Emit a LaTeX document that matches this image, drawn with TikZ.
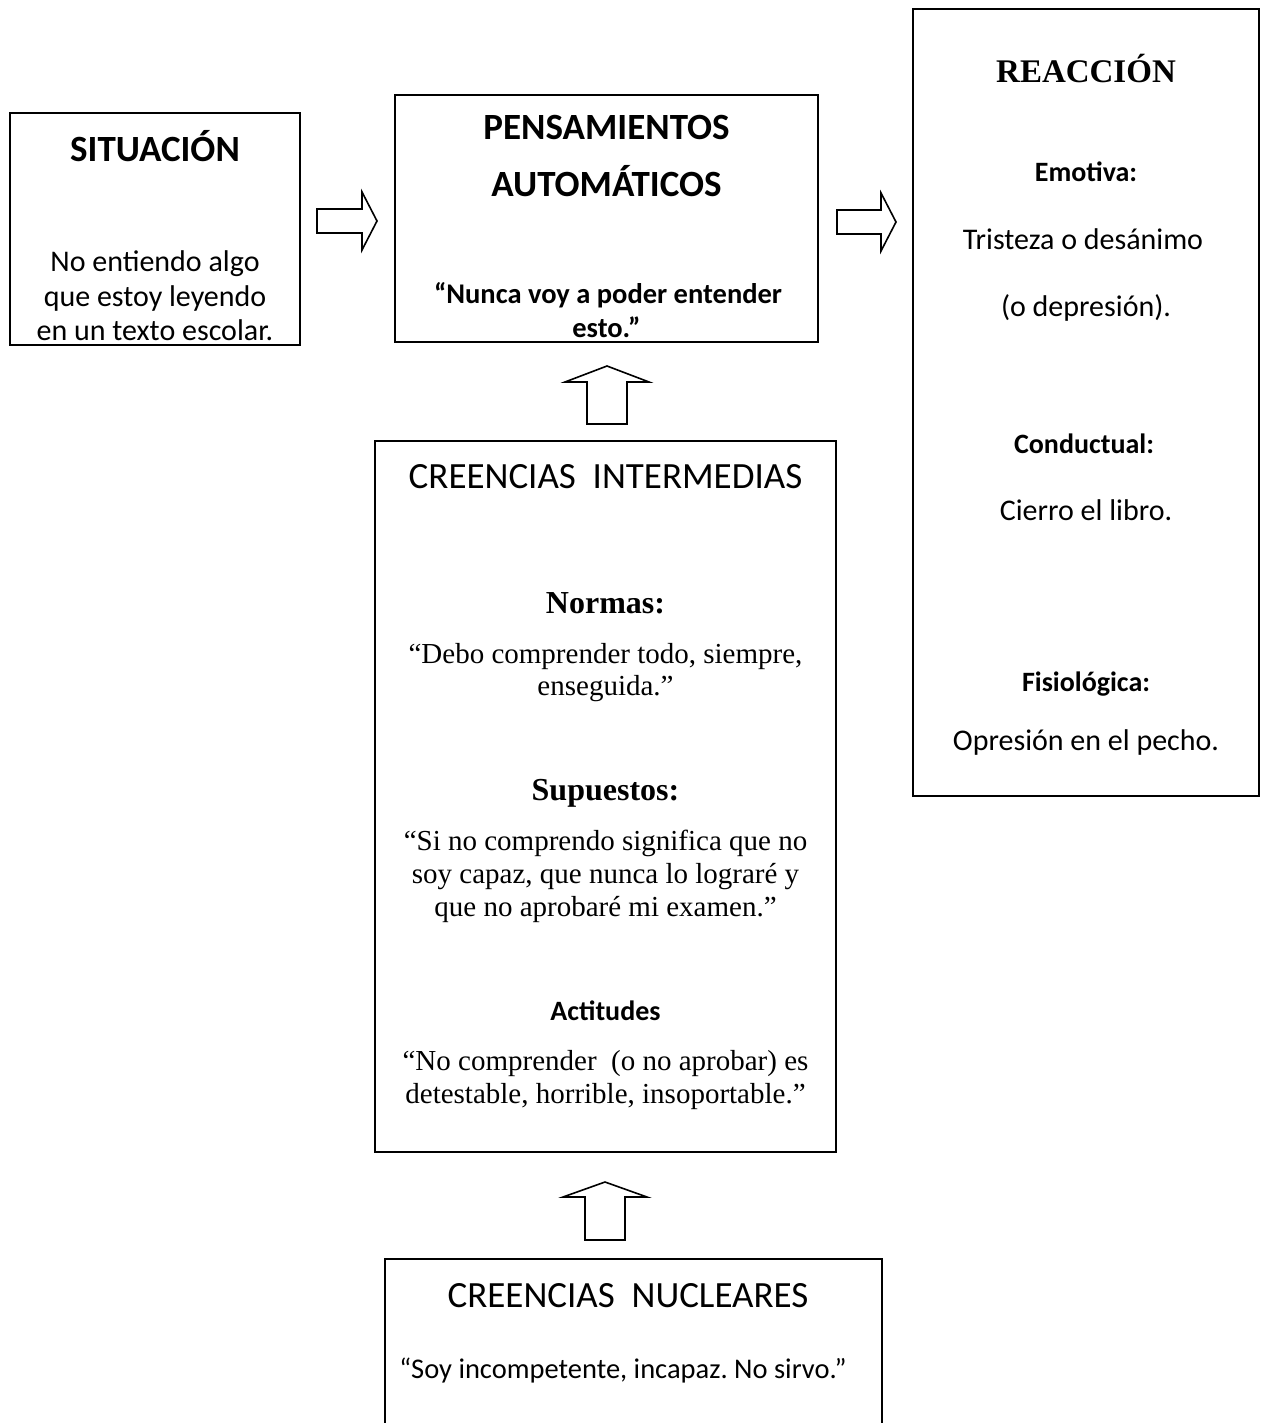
\documentclass[tikz,border=0pt]{standalone}
\usepackage{fontspec}
\setmainfont{Liberation Serif}
\newfontfamily\calfont{Carlito}
\frenchspacing
\begin{document}
\begin{tikzpicture}[x=1pt,y=-1pt,
  boxst/.style={draw, line width=1.7pt, inner sep=0pt, outer sep=0pt, rectangle},
  blockarr/.style={draw, line width=1.6pt, fill=white, line join=miter},
  txt/.style={anchor=base, inner sep=0pt},
  calhead/.style={txt, font={\calfont\bfseries\fontsize{37}{41}\selectfont}},
  calbody/.style={txt, font={\calfont\fontsize{30}{34}\selectfont}},
  calbold/.style={txt, font={\calfont\bfseries\fontsize{28.5}{33}\selectfont}},
  calsub/.style={txt, font={\calfont\bfseries\fontsize{28}{31}\selectfont}},
  calbig/.style={txt, font={\calfont\fontsize{37}{41}\selectfont}},
  calquote/.style={txt, font={\calfont\fontsize{28.5}{32}\selectfont}},
  serhead/.style={txt, font={\bfseries\fontsize{32}{36}\selectfont}},
  serbody/.style={txt, font={\fontsize{29}{33}\selectfont}},
  serbig/.style={txt, font={\bfseries\fontsize{33}{37}\selectfont}}]
\useasboundingbox (0,0) rectangle (1267,1423);
\clip (0,0) rectangle (1267,1423);
\fill[white] (0,0) rectangle (1267,1423);

% boxes
\node[boxst, minimum width=290pt, minimum height=232pt] (sit) at (155,229) {};
\node[boxst, minimum width=423pt, minimum height=247pt] (pens) at (606.5,218.5) {};
\node[boxst, minimum width=346pt, minimum height=787pt] (reac) at (1086,402.5) {};
\node[boxst, minimum width=461pt, minimum height=711pt] (inter) at (605.5,796.5) {};
\node[boxst, minimum width=497pt, minimum height=200pt] (nuc) at (633.5,1359) {};

% block arrows
\coordinate (ar1) at (317,221);
\coordinate (ar2) at (837,222);
\coordinate (au1) at (607,424);
\coordinate (au2) at (605,1240);
\draw[blockarr] (ar1) ++(0,-12) -- ++(45,0) -- ++(0,-17) -- ++(15,29) -- ++(-15,29) -- ++(0,-17) -- ++(-45,0) -- cycle;
\draw[blockarr] (ar2) ++(0,-12) -- ++(44,0) -- ++(0,-17) -- ++(15,29) -- ++(-15,29) -- ++(0,-17) -- ++(-44,0) -- cycle;
\draw[blockarr] (au1) ++(-20,0) -- ++(0,-42) -- ++(-22,0) -- ++(42,-16) -- ++(42,16) -- ++(-22,0) -- ++(0,42) -- cycle;
\draw[blockarr] (au2) ++(-20,0) -- ++(0,-43) -- ++(-22,0) -- ++(42,-15) -- ++(42,15) -- ++(-22,0) -- ++(0,43) -- cycle;

% SITUACION
\node[calhead] (s1) at (155,162) {SITUACIÓN};
\node[calbody] (s2) at (155,272) {No entiendo algo};
\node[calbody] (s3) at (155,306) {que estoy leyendo};
\node[calbody] (s4) at (155,340) {en un texto escolar.};

% PENSAMIENTOS
\node[calhead] (p1) at (606.5,140) {PENSAMIENTOS};
\node[calhead] (p2) at (606.5,197) {AUTOMÁTICOS};
\node[calbold] (p3) at (608,303) {“Nunca voy a poder entender};
\node[calbold] (p4) at (606.5,337) {esto.”};

% REACCION
\node[serbig] (r1) at (1086,83) {REACCIÓN};
\node[calsub] (r2) at (1086,182) {Emotiva:};
\node[calbody] (r3) at (1083,250) {Tristeza o desánimo};
\node[calbody] (r4) at (1086,316) {(o depresión).};
\node[calsub] (r5) at (1084,453) {Conductual:};
\node[calbody] (r6) at (1086,520) {Cierro el libro.};
\node[calsub] (r7) at (1086,691) {Fisiológica:};
\node[calbody] (r8) at (1086,750) {Opresión en el pecho.};

% INTERMEDIAS
\node[calbig] (i1) at (605.5,488) {CREENCIAS\ \ INTERMEDIAS};
\node[serhead] (i2) at (605.5,613) {Normas:};
\node[serbody] (i3) at (605.5,663) {“Debo comprender todo, siempre,};
\node[serbody] (i4) at (605.5,695) {enseguida.”};
\node[serhead] (i5) at (605.5,800) {Supuestos:};
\node[serbody] (i6) at (605.5,850) {“Si no comprendo significa que no};
\node[serbody] (i7) at (605.5,883) {soy capaz, que nunca lo lograré y};
\node[serbody] (i8) at (605.5,916) {que no aprobaré mi examen.”};
\node[calsub] (i9) at (605.5,1020) {Actitudes};
\node[serbody] (i10) at (605.5,1070) {“No comprender\ \ (o no aprobar) es};
\node[serbody] (i11) at (605.5,1103) {detestable, horrible, insoportable.”};

% NUCLEARES
\node[calbig] (n1) at (628,1307) {CREENCIAS\ \ NUCLEARES};
\node[calquote] (n2) at (623,1378) {“Soy incompetente, incapaz. No sirvo.”};
\end{tikzpicture}
\end{document}
